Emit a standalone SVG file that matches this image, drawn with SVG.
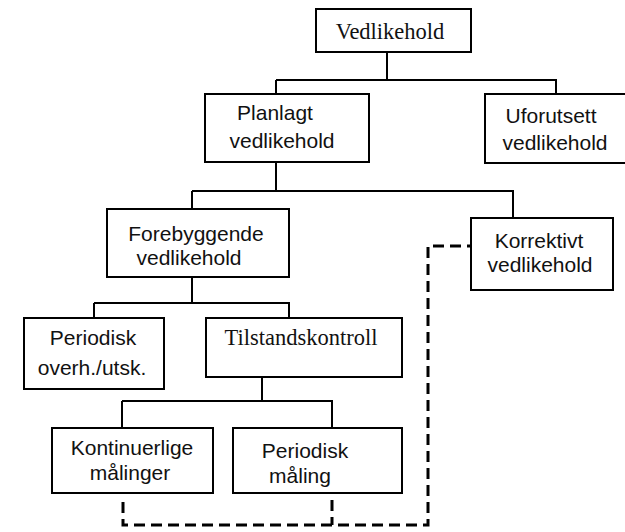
<svg xmlns="http://www.w3.org/2000/svg" width="625" height="532" viewBox="0 0 625 532">
<style>
.box{fill:#fff;stroke:#000;stroke-width:2}
.ln{fill:none;stroke:#000;stroke-width:2}
.dash{fill:none;stroke:#000;stroke-width:3;stroke-dasharray:11 6}
.s{font-family:"Liberation Sans",Arial,sans-serif;font-size:21px;fill:#111;text-anchor:middle}
.t{font-family:"Liberation Serif","Times New Roman",serif;font-size:22.5px;fill:#111;text-anchor:middle}
</style>
<rect width="625" height="532" fill="#fff"/>
<g id="connectors">
<path class="ln" d="M387 52V80M276 80H556V94M276 80V94"/>
<path class="ln" d="M276 162V191M192 191H513V218M192 191V209"/>
<path class="ln" d="M192 277V303M94 303H289V318M94 303V318"/>
<path class="ln" d="M262 377V401M122 401H332V428M122 401V428"/>
<path class="dash" d="M123 502V525H428V246H471"/>
<path class="dash" d="M332 500V525"/>
</g>
<g id="vedlikehold"><rect class="box" x="316" y="9" width="155" height="43"/><text class="t" x="390" y="39">Vedlikehold</text></g>
<g id="planlagt"><rect class="box" x="205" y="94" width="164" height="68"/><text class="s" x="275" y="120">Planlagt</text><text class="s" x="282" y="148">vedlikehold</text></g>
<g id="uforutsett"><rect class="box" x="485" y="94" width="145" height="69"/><text class="s" x="551" y="123">Uforutsett</text><text class="s" x="555" y="150">vedlikehold</text></g>
<g id="forebyggende"><rect class="box" x="107" y="209" width="182" height="68"/><text class="s" x="196" y="241">Forebyggende</text><text class="s" x="189" y="265">vedlikehold</text></g>
<g id="korrektivt"><rect class="box" x="471" y="218" width="142" height="72"/><text class="s" x="539" y="248">Korrektivt</text><text class="s" x="540" y="272">vedlikehold</text></g>
<g id="periodisk-overh"><rect class="box" x="24" y="318" width="140" height="71"/><text class="s" x="93" y="345">Periodisk</text><text class="s" x="92" y="375">overh./utsk.</text></g>
<g id="tilstandskontroll"><rect class="box" x="206" y="318" width="196" height="59"/><text class="t" x="301" y="345">Tilstandskontroll</text></g>
<g id="kontinuerlige"><rect class="box" x="52" y="428" width="161" height="65"/><text class="s" x="132" y="455">Kontinuerlige</text><text class="s" x="130" y="480">målinger</text></g>
<g id="periodisk-maling"><rect class="box" x="233" y="428" width="169" height="65"/><text class="s" x="305" y="458">Periodisk</text><text class="s" x="300" y="483">måling</text></g>
</svg>
